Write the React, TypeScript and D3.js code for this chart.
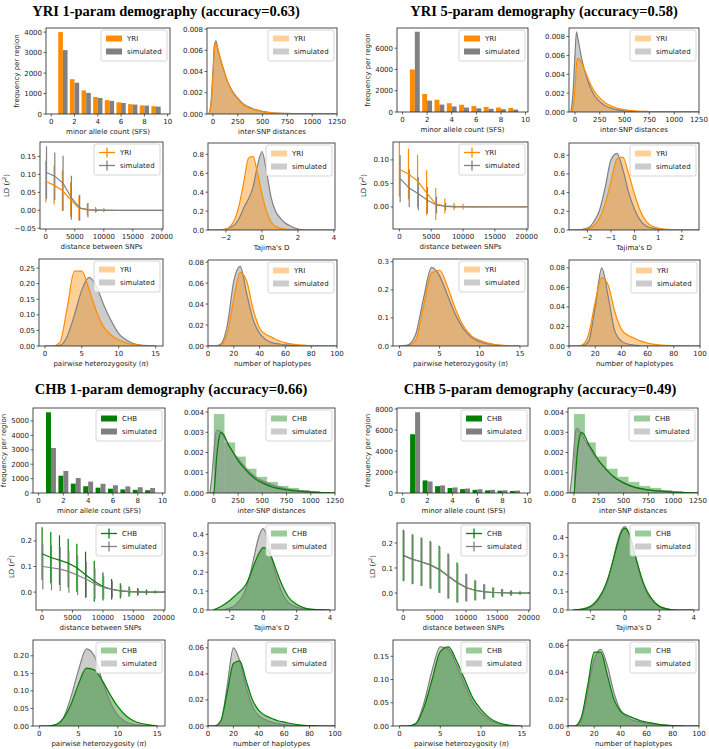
import React from 'react';
import * as d3 from 'd3';

// ---------------- data ----------------
const SFS_BINS = [1, 2, 3, 4, 5, 6, 7, 8, 9];
const yriSfs = [4000, 1700, 1150, 830, 680, 570, 480, 420, 380];
const chbSfs = [5600, 1200, 650, 470, 370, 300, 250, 220, 190];
const simSfsYri1 = [3120, 1530, 1030, 780, 640, 540, 460, 410, 360];
const simSfsYri5 = [7550, 1070, 700, 520, 420, 350, 300, 260, 230];
const simSfsChb1 = [3120, 1530, 1040, 790, 640, 540, 460, 400, 350];
const simSfsChb5 = [7700, 1100, 720, 530, 430, 360, 300, 260, 230];

const INTER_X = [-40, -20, 0, 15, 30, 50, 75, 100, 150, 200, 250, 300, 400, 500, 600, 750, 1000, 1250];
const yriInter1 = [0, 0.0008, 0.0035, 0.0062, 0.0067, 0.006, 0.0052, 0.0044, 0.003, 0.002, 0.0014, 0.0009, 0.00045, 0.00022, 0.0001, 0.00004, 0.00001, 0];
const simInterYri1 = [0, 0.001, 0.004, 0.0065, 0.0069, 0.0061, 0.0052, 0.0044, 0.003, 0.0021, 0.0015, 0.001, 0.0005, 0.00025, 0.00012, 0.00005, 0.00001, 0];
const yriInter5 = [0, 0.0004, 0.0025, 0.005, 0.0057, 0.0055, 0.005, 0.0044, 0.0031, 0.0021, 0.0015, 0.001, 0.0005, 0.00025, 0.00012, 0.00005, 0.00001, 0];
const simInterYri5 = [0, 0.002, 0.006, 0.0085, 0.0078, 0.0066, 0.0053, 0.0043, 0.0027, 0.0017, 0.0011, 0.0007, 0.0003, 0.00012, 0.00005, 0.00002, 0, 0];
const chbInter1 = [0, 0, 0, 0.0008, 0.0018, 0.0026, 0.003, 0.0029, 0.0024, 0.002, 0.0016, 0.0013, 0.0008, 0.0005, 0.0003, 0.00015, 0.00005, 0];
const simInterChb1 = [0, 0.0008, 0.002, 0.0028, 0.0031, 0.0031, 0.003, 0.0028, 0.0024, 0.002, 0.0017, 0.0014, 0.0009, 0.0006, 0.0004, 0.0002, 0.00006, 0];
const chbInter5 = [0, 0, 0, 0.0008, 0.0018, 0.0026, 0.003, 0.0029, 0.0024, 0.002, 0.0016, 0.0013, 0.0008, 0.0005, 0.0003, 0.00015, 0.00005, 0];
const simInterChb5 = [0, 0.0009, 0.0022, 0.003, 0.0032, 0.0031, 0.0029, 0.0027, 0.0023, 0.0019, 0.0016, 0.0013, 0.0008, 0.0005, 0.0003, 0.00015, 0.00004, 0];
const INTER_HIST_EDGES = [0, 110, 220, 330, 440, 550, 660, 770, 880, 990, 1100, 1210];
const chbInterHist = [0.0039, 0.0025, 0.0018, 0.0012, 0.0008, 0.00055, 0.00035, 0.00025, 0.00015, 0.0001, 0.00005];

const TAJ_X = [-3, -2.5, -2, -1.75, -1.5, -1.25, -1, -0.75, -0.5, -0.25, 0, 0.25, 0.5, 0.75, 1, 1.25, 1.5, 2, 2.5, 3, 4];
const yriTaj1 = [0, 0, 0.01, 0.04, 0.12, 0.28, 0.52, 0.76, 0.78, 0.6, 0.38, 0.2, 0.09, 0.04, 0.02, 0.01, 0.005, 0, 0, 0, 0];
const simTajYri1 = [0, 0, 0.01, 0.03, 0.06, 0.13, 0.24, 0.33, 0.45, 0.68, 0.83, 0.62, 0.35, 0.2, 0.13, 0.08, 0.05, 0.01, 0, 0, 0];
const yriTaj5 = [0, 0, 0.01, 0.04, 0.12, 0.28, 0.52, 0.76, 0.78, 0.6, 0.38, 0.2, 0.09, 0.04, 0.02, 0.01, 0.005, 0, 0, 0, 0];
const simTajYri5 = [0, 0, 0.02, 0.08, 0.2, 0.45, 0.75, 0.82, 0.65, 0.4, 0.22, 0.1, 0.04, 0.02, 0.01, 0.005, 0, 0, 0, 0, 0];
const chbTaj1 = [0, 0.02, 0.05, 0.07, 0.09, 0.11, 0.14, 0.19, 0.25, 0.3, 0.33, 0.32, 0.28, 0.22, 0.16, 0.11, 0.07, 0.03, 0.01, 0.003, 0];
const simTajChb1 = [0, 0, 0.01, 0.02, 0.04, 0.07, 0.12, 0.2, 0.3, 0.39, 0.43, 0.38, 0.28, 0.19, 0.12, 0.07, 0.04, 0.015, 0.005, 0.001, 0];
const chbTaj5 = [0, 0.005, 0.02, 0.04, 0.07, 0.11, 0.17, 0.25, 0.34, 0.42, 0.45, 0.42, 0.34, 0.25, 0.17, 0.11, 0.07, 0.02, 0.005, 0, 0];
const simTajChb5 = [0, 0.003, 0.015, 0.03, 0.06, 0.1, 0.16, 0.25, 0.35, 0.43, 0.46, 0.42, 0.33, 0.24, 0.16, 0.1, 0.06, 0.02, 0.005, 0, 0];

const PI_X = [0, 1, 2, 3, 4, 5, 6, 7, 8, 9, 10, 11, 12, 13, 14, 15];
const yriPi1 = [0, 0, 0.01, 0.12, 0.24, 0.24, 0.18, 0.11, 0.06, 0.035, 0.02, 0.01, 0.005, 0.002, 0, 0];
const simPiYri1 = [0, 0, 0.002, 0.03, 0.1, 0.18, 0.22, 0.19, 0.13, 0.08, 0.04, 0.02, 0.008, 0.003, 0.001, 0];
const yriPi5 = [0, 0, 0.02, 0.14, 0.26, 0.27, 0.21, 0.13, 0.07, 0.035, 0.02, 0.01, 0.005, 0.002, 0, 0];
const simPiYri5 = [0, 0.003, 0.04, 0.17, 0.28, 0.25, 0.18, 0.11, 0.06, 0.03, 0.015, 0.007, 0.003, 0.001, 0, 0];
const chbPi1 = [0, 0, 0.003, 0.02, 0.06, 0.12, 0.165, 0.16, 0.13, 0.09, 0.055, 0.03, 0.015, 0.007, 0.003, 0];
const simPiChb1 = [0, 0, 0.002, 0.02, 0.08, 0.16, 0.22, 0.2, 0.13, 0.07, 0.03, 0.012, 0.005, 0.002, 0, 0];
const chbPi5 = [0, 0, 0.005, 0.04, 0.1, 0.16, 0.17, 0.14, 0.1, 0.06, 0.035, 0.018, 0.008, 0.003, 0.001, 0];
const simPiChb5 = [0, 0, 0.006, 0.05, 0.12, 0.17, 0.165, 0.13, 0.09, 0.05, 0.028, 0.014, 0.006, 0.002, 0, 0];

const HAP_X = [0, 5, 10, 15, 20, 25, 30, 35, 40, 45, 50, 55, 60, 70, 80, 90, 100];
const yriHap1 = [0, 0, 0.001, 0.012, 0.045, 0.07, 0.062, 0.035, 0.017, 0.011, 0.008, 0.005, 0.003, 0.001, 0.0003, 0, 0];
const simHapYri1 = [0, 0, 0.002, 0.02, 0.062, 0.076, 0.05, 0.025, 0.012, 0.006, 0.003, 0.002, 0.001, 0.0003, 0, 0, 0];
const yriHap5 = [0, 0, 0.001, 0.012, 0.045, 0.07, 0.062, 0.035, 0.017, 0.011, 0.008, 0.005, 0.003, 0.001, 0.0003, 0, 0];
const simHapYri5 = [0, 0, 0, 0.005, 0.04, 0.08, 0.05, 0.015, 0.005, 0.002, 0.001, 0, 0, 0, 0, 0, 0];
const chbHap1 = [0, 0, 0.004, 0.025, 0.048, 0.05, 0.035, 0.02, 0.012, 0.008, 0.006, 0.004, 0.003, 0.001, 0.0003, 0, 0];
const simHapChb1 = [0, 0, 0.003, 0.03, 0.06, 0.05, 0.03, 0.015, 0.008, 0.005, 0.003, 0.002, 0.001, 0.0003, 0, 0, 0];
const chbHap5 = [0, 0, 0.006, 0.03, 0.055, 0.055, 0.038, 0.02, 0.011, 0.008, 0.006, 0.004, 0.003, 0.001, 0.0003, 0, 0];
const simHapChb5 = [0, 0, 0.004, 0.025, 0.05, 0.057, 0.045, 0.025, 0.012, 0.007, 0.004, 0.003, 0.002, 0.001, 0.0003, 0, 0];

const LD_X = [0, 1429, 2857, 4286, 5714, 7143, 8571, 10000, 11429, 12857, 14286, 15714, 17143, 18571, 20000];
const yriLd = [0.08, 0.07, 0.055, 0.03, 0.006, 0.002, 0.001, 0.0005, 0, 0, 0, 0, 0, 0, 0];
const yriLdErr = [0.058, 0.054, 0.056, 0.048, 0.034, 0.016, 0.008, 0.006, 0.002, 0.001, 0, 0, 0, 0, 0];
const simLdYri1 = [0.105, 0.095, 0.075, 0.035, 0.007, 0.001, 0, 0, 0, 0, 0, 0, 0, 0, 0];
const simLdYri1Err = [0.073, 0.066, 0.077, 0.061, 0.036, 0.02, 0.004, 0.002, 0, 0, 0, 0, 0, 0, 0];
const simLdYri5 = [0.06, 0.04, 0.028, 0.014, 0.004, 0.001, 0, 0, 0, 0, 0, 0, 0, 0, 0];
const simLdYri5Err = [0.05, 0.04, 0.035, 0.028, 0.018, 0.008, 0.003, 0.001, 0, 0, 0, 0, 0, 0, 0];
const chbLd = [0.15, 0.135, 0.125, 0.113, 0.095, 0.068, 0.042, 0.022, 0.011, 0.005, 0.002, 0.001, 0, 0, 0];
const chbLdErr = [0.103, 0.1, 0.097, 0.095, 0.094, 0.09, 0.08, 0.055, 0.04, 0.03, 0.02, 0.015, 0.01, 0.006, 0.003];
const simLdChb1 = [0.1, 0.095, 0.09, 0.08, 0.066, 0.05, 0.032, 0.018, 0.01, 0.005, 0.002, 0.001, 0, 0, 0];
const simLdChb1Err = [0.09, 0.088, 0.086, 0.083, 0.078, 0.07, 0.06, 0.045, 0.032, 0.022, 0.015, 0.01, 0.006, 0.004, 0.002];
const simLdChb5 = [0.15, 0.135, 0.124, 0.11, 0.092, 0.066, 0.04, 0.021, 0.01, 0.005, 0.002, 0.001, 0, 0, 0];
const simLdChb5Err = [0.1, 0.098, 0.096, 0.094, 0.092, 0.088, 0.078, 0.055, 0.04, 0.03, 0.02, 0.015, 0.01, 0.006, 0.003];

const TITLES = [
  'YRI 1-param demography (accuracy=0.63)',
  'YRI 5-param demography (accuracy=0.58)',
  'CHB 1-param demography (accuracy=0.66)',
  'CHB 5-param demography (accuracy=0.49)',
];

// ---------------- style ----------------
const ORANGE = '#ff8c00';
const GRAY = '#808080';
const GREEN = '#008000';
const AXC = '#222';
const SANS = 'DejaVu Sans, sans-serif';

const fmt = (v: number, dec: number) => (v < 0 ? '\u2212' : '') + Math.abs(v).toFixed(dec);

type Spec = any;

function pts(xs: number[], ys: number[]) {
  return xs.map((x, i) => [x, ys[i]] as [number, number]);
}

function Legend({ right, top, entries, kind }: any) {
  const w = 66;
  const h = 31;
  const lx = right - 3 - w;
  const ly = top + 2;
  return (
    <g>
      <rect x={lx} y={ly} width={w} height={h} rx={2} fill="#fff" fillOpacity={0.8} stroke="#ccc" strokeWidth={0.8} />
      {entries.map((e: any, i: number) => {
        const cy = ly + 8.5 + i * 13;
        return (
          <g key={i}>
            {kind === 'ld' ? (
              <g stroke={e.color} strokeWidth={1.3}>
                <line x1={lx + 5} x2={lx + 21} y1={cy} y2={cy} />
                <line x1={lx + 13} x2={lx + 13} y1={cy - 5} y2={cy + 5} />
              </g>
            ) : (
              <rect x={lx + 5} y={cy - 3} width={16} height={6} fill={e.color} fillOpacity={kind === 'bar' ? 1 : 0.4} />
            )}
            <text x={lx + 26} y={cy + 2.5} fontSize={7} fontFamily={SANS} fill={AXC}>{e.label}</text>
          </g>
        );
      })}
    </g>
  );
}

function Subplot({ s, id }: { s: Spec; id: string }) {
  const [bx, by, bw, bh] = s.box;
  const x = d3.scaleLinear().domain(s.xDomain).range([bx, bx + bw]);
  const y = d3.scaleLinear().domain(s.yDomain).range([by + bh, by]);
  const clip = `clip-${id}`;
  let body: any = null;
  let legendKind = 'patch';
  if (s.kind === 'sfs') {
    legendKind = 'bar';
    body = (
      <g>
        {SFS_BINS.map((b, i) => (
          <g key={i}>
            <rect x={x(b - 0.4)} width={x(b) - x(b - 0.4)} y={y(s.pop[i])} height={y(0) - y(s.pop[i])} fill={s.popColor} />
            <rect x={x(b)} width={x(b + 0.4) - x(b)} y={y(s.sim[i])} height={y(0) - y(s.sim[i])} fill={GRAY} />
          </g>
        ))}
      </g>
    );
  } else if (s.kind === 'dens') {
    const area = d3.area<[number, number]>().x((d) => x(d[0])).y0(y(0)).y1((d) => y(d[1])).curve(d3.curveMonotoneX);
    const line = d3.line<[number, number]>().x((d) => x(d[0])).y((d) => y(d[1])).curve(d3.curveMonotoneX);
    const P = pts(s.xs, s.pop);
    const S = pts(s.xs, s.sim);
    body = (
      <g>
        {s.hist &&
          s.hist.map((v: number, i: number) => (
            <rect key={i} x={x(s.histEdges[i])} width={x(s.histEdges[i + 1]) - x(s.histEdges[i])} y={y(v)} height={y(0) - y(v)} fill={s.popColor} fillOpacity={0.4} />
          ))}
        <path d={area(S) as string} fill={GRAY} fillOpacity={0.4} />
        {!s.hist && <path d={area(P) as string} fill={s.popColor} fillOpacity={0.4} />}
        <path d={line(S) as string} fill="none" stroke={GRAY} strokeWidth={1.2} />
        <path d={line(P) as string} fill="none" stroke={s.popColor} strokeWidth={1.2} />
      </g>
    );
  } else {
    legendKind = 'ld';
    const line = d3.line<[number, number]>().x((d) => x(d[0])).y((d) => y(d[1]));
    const off = 120;
    body = (
      <g>
        {LD_X.map((lx, i) => (
          <line key={'p' + i} x1={x(lx)} x2={x(lx)} y1={y(s.pop[i] - s.popErr[i])} y2={y(s.pop[i] + s.popErr[i])} stroke={s.popColor} strokeWidth={1.2} />
        ))}
        {LD_X.map((lx, i) => (
          <line key={'s' + i} x1={x(lx + off)} x2={x(lx + off)} y1={y(s.sim[i] - s.simErr[i])} y2={y(s.sim[i] + s.simErr[i])} stroke={GRAY} strokeWidth={1.2} />
        ))}
        <path d={line(pts(LD_X, s.pop)) as string} fill="none" stroke={s.popColor} strokeWidth={1.2} />
        <path d={line(pts(LD_X.map((v) => v + off), s.sim)) as string} fill="none" stroke={GRAY} strokeWidth={1.2} />
      </g>
    );
  }
  const yLabW = Math.max(...s.yTicks.map((t: number) => fmt(t, s.yDec).length)) * 4.4;
  return (
    <g>
      <defs>
        <clipPath id={clip}>
          <rect x={bx} y={by} width={bw} height={bh} />
        </clipPath>
      </defs>
      <g clipPath={`url(#${clip})`}>{body}</g>
      <rect x={bx} y={by} width={bw} height={bh} fill="none" stroke={AXC} strokeWidth={0.8} />
      {s.xTicks.map((t: number) => (
        <g key={'x' + t}>
          <line x1={x(t)} x2={x(t)} y1={by + bh} y2={by + bh + 2.5} stroke={AXC} strokeWidth={0.7} />
          <text x={x(t)} y={by + bh + 10} fontSize={7} fontFamily={SANS} textAnchor="middle" fill={AXC}>{fmt(t, 0)}</text>
        </g>
      ))}
      {s.yTicks.map((t: number) => (
        <g key={'y' + t}>
          <line x1={bx - 2.5} x2={bx} y1={y(t)} y2={y(t)} stroke={AXC} strokeWidth={0.7} />
          <text x={bx - 4} y={y(t) + 2.5} fontSize={7} fontFamily={SANS} textAnchor="end" fill={AXC}>{fmt(t, s.yDec)}</text>
        </g>
      ))}
      <text x={bx + bw / 2} y={by + bh + 20} fontSize={7} fontFamily={SANS} textAnchor="middle" fill={AXC}>
        {s.xLabel}
        {s.xLabelMath && <tspan fontStyle="italic">{s.xLabelMath}</tspan>}
        {s.xLabelMath && ')'}
      </text>
      {s.yLabel && (
        <text transform={`translate(${bx - yLabW - 9},${by + bh / 2}) rotate(-90)`} fontSize={7} fontFamily={SANS} textAnchor="middle" fill={AXC}>
          {s.yLabel === 'LD' ? (
            <>
              LD (<tspan fontStyle="italic">r</tspan>
              <tspan fontSize={5} dy={-3}>2</tspan>
              <tspan dy={3}>)</tspan>
            </>
          ) : (
            s.yLabel
          )}
        </text>
      )}
      <Legend
        right={bx + bw}
        top={by}
        kind={legendKind}
        entries={[
          { label: s.popLabel, color: s.popColor },
          { label: 'simulated', color: GRAY },
        ]}
      />
    </g>
  );
}

function panel(o: any, pop: string, color: string, d: any): Spec[] {
  const base = { popLabel: pop, popColor: color };
  return [
    { ...base, kind: 'sfs', box: o.sfs, xDomain: [-0.45, 10.2], xTicks: [0, 2, 4, 6, 8, 10], yDomain: d.sfsY, yTicks: d.sfsTicks, yDec: 0, xLabel: 'minor allele count (SFS)', yLabel: 'frequency per region', pop: d.sfsPop, sim: d.sfsSim },
    { ...base, kind: 'dens', box: o.inter, xDomain: [-60, 1250], xTicks: [0, 250, 500, 750, 1000, 1250], yDomain: d.interY, yTicks: d.interTicks, yDec: 3, xLabel: 'inter-SNP distances', xs: INTER_X, pop: d.interPop, sim: d.interSim, hist: d.interHist, histEdges: INTER_HIST_EDGES },
    { ...base, kind: 'ld', box: o.ld, xDomain: [-1000, 20200], xTicks: [0, 5000, 10000, 15000, 20000], yDomain: d.ldY, yTicks: d.ldTicks, yDec: d.ldDec, xLabel: 'distance between SNPs', yLabel: 'LD', pop: d.ldPop, popErr: d.ldPopErr, sim: d.ldSim, simErr: d.ldSimErr },
    { ...base, kind: 'dens', box: o.taj, xDomain: d.tajX, xTicks: d.tajTicks, yDomain: d.tajY, yTicks: d.tajYTicks, yDec: 1, xLabel: "Tajima's D", xs: TAJ_X, pop: d.tajPop, sim: d.tajSim },
    { ...base, kind: 'dens', box: o.pi, xDomain: [-0.8, 16], xTicks: [0, 5, 10, 15], yDomain: d.piY, yTicks: d.piTicks, yDec: d.piDec, xLabel: 'pairwise heterozygosity (', xLabelMath: '\u03c0', xs: PI_X, pop: d.piPop, sim: d.piSim },
    { ...base, kind: 'dens', box: o.hap, xDomain: [0, 100], xTicks: [0, 20, 40, 60, 80, 100], yDomain: d.hapY, yTicks: d.hapTicks, yDec: 2, xLabel: 'number of haplotypes', xs: HAP_X, pop: d.hapPop, sim: d.hapSim },
  ];
}

const LAYOUT = [
  { sfs: [46, 28, 124, 86], inter: [207, 28, 130, 86], ld: [40, 142, 123, 87], taj: [208, 143, 127, 87], pi: [39, 259, 124, 87], hap: [208, 260, 129, 86] },
  { sfs: [397, 28, 131, 84], inter: [569, 28, 130, 84], ld: [393, 142, 135, 87], taj: [569, 143, 130, 87], pi: [393, 259, 135, 87], hap: [569, 260, 131, 86] },
  { sfs: [33, 408, 132, 85], inter: [208, 408, 127, 85], ld: [36, 523, 129, 87], taj: [208, 523, 127, 87], pi: [33, 640, 132, 86], hap: [208, 640, 127, 86] },
  { sfs: [397, 408, 133, 85], inter: [568, 408, 130, 85], ld: [397, 523, 133, 87], taj: [568, 523, 131, 87], pi: [393, 640, 137, 86], hap: [568, 640, 131, 86] },
];
const TITLE_POS = [
  [166, 16],
  [544, 16],
  [171, 394],
  [540, 394],
];

const SUBPLOTS: Spec[] = [
  ...panel(LAYOUT[0], 'YRI', ORANGE, {
    sfsY: [0, 4200], sfsTicks: [0, 1000, 2000, 3000, 4000], sfsPop: yriSfs, sfsSim: simSfsYri1,
    interY: [0, 0.0081], interTicks: [0, 0.002, 0.004, 0.006, 0.008], interPop: yriInter1, interSim: simInterYri1,
    ldY: [-0.052, 0.19], ldTicks: [-0.05, 0, 0.05, 0.1, 0.15], ldDec: 2, ldPop: yriLd, ldPopErr: yriLdErr, ldSim: simLdYri1, ldSimErr: simLdYri1Err,
    tajX: [-3, 4.06], tajTicks: [-2, 0, 2, 4], tajY: [0, 0.92], tajYTicks: [0, 0.2, 0.4, 0.6, 0.8], tajPop: yriTaj1, tajSim: simTajYri1,
    piY: [0, 0.279], piTicks: [0, 0.05, 0.1, 0.15, 0.2, 0.25], piDec: 2, piPop: yriPi1, piSim: simPiYri1,
    hapY: [0, 0.082], hapTicks: [0, 0.02, 0.04, 0.06, 0.08], hapPop: yriHap1, hapSim: simHapYri1,
  }),
  ...panel(LAYOUT[1], 'YRI', ORANGE, {
    sfsY: [0, 7900], sfsTicks: [0, 2000, 4000, 6000], sfsPop: yriSfs, sfsSim: simSfsYri5,
    interY: [0, 0.0089], interTicks: [0, 0.002, 0.004, 0.006, 0.008], interPop: yriInter5, interSim: simInterYri5,
    ldY: [-0.047, 0.138], ldTicks: [0, 0.05, 0.1], ldDec: 2, ldPop: yriLd, ldPopErr: yriLdErr, ldSim: simLdYri5, ldSimErr: simLdYri5Err,
    tajX: [-2.78, 2.73], tajTicks: [-2, -1, 0, 1, 2], tajY: [0, 0.93], tajYTicks: [0, 0.2, 0.4, 0.6, 0.8], tajPop: yriTaj5, tajSim: simTajYri5,
    piY: [0, 0.31], piTicks: [0, 0.1, 0.2, 0.3], piDec: 1, piPop: yriPi5, piSim: simPiYri5,
    hapY: [0, 0.088], hapTicks: [0, 0.02, 0.04, 0.06, 0.08], hapPop: yriHap5, hapSim: simHapYri5,
  }),
  ...panel(LAYOUT[2], 'CHB', GREEN, {
    sfsY: [0, 5900], sfsTicks: [0, 1000, 2000, 3000, 4000, 5000], sfsPop: chbSfs, sfsSim: simSfsChb1,
    interY: [0, 0.0042], interTicks: [0, 0.001, 0.002, 0.003, 0.004], interPop: chbInter1, interSim: simInterChb1, interHist: chbInterHist,
    ldY: [-0.07, 0.27], ldTicks: [0, 0.1, 0.2], ldDec: 1, ldPop: chbLd, ldPopErr: chbLdErr, ldSim: simLdChb1, ldSimErr: simLdChb1Err,
    tajX: [-3.3, 4.3], tajTicks: [-2, 0, 2, 4], tajY: [0, 0.46], tajYTicks: [0, 0.1, 0.2, 0.3, 0.4], tajPop: chbTaj1, tajSim: simTajChb1,
    piY: [0, 0.245], piTicks: [0, 0.05, 0.1, 0.15, 0.2], piDec: 2, piPop: chbPi1, piSim: simPiChb1,
    hapY: [0, 0.066], hapTicks: [0, 0.02, 0.04, 0.06], hapPop: chbHap1, hapSim: simHapChb1,
  }),
  ...panel(LAYOUT[3], 'CHB', GREEN, {
    sfsY: [0, 8100], sfsTicks: [0, 2000, 4000, 6000, 8000], sfsPop: chbSfs, sfsSim: simSfsChb5,
    interY: [0, 0.0042], interTicks: [0, 0.001, 0.002, 0.003, 0.004], interPop: chbInter5, interSim: simInterChb5, interHist: chbInterHist,
    ldY: [-0.068, 0.28], ldTicks: [0, 0.1, 0.2], ldDec: 1, ldPop: chbLd, ldPopErr: chbLdErr, ldSim: simLdChb5, ldSimErr: simLdChb5Err,
    tajX: [-3.3, 4.3], tajTicks: [-2, 0, 2, 4], tajY: [0, 0.48], tajYTicks: [0, 0.1, 0.2, 0.3, 0.4], tajPop: chbTaj5, tajSim: simTajChb5,
    piY: [0, 0.185], piTicks: [0, 0.05, 0.1, 0.15], piDec: 2, piPop: chbPi5, piSim: simPiChb5,
    hapY: [0, 0.064], hapTicks: [0, 0.02, 0.04, 0.06], hapPop: chbHap5, hapSim: simHapChb5,
  }),
];

export default function App() {
  return (
    <svg width={709} height={749} viewBox="0 0 709 749" style={{ display: 'block', position: 'absolute', left: 0, top: 0, background: '#fff' }}>
      <rect width={709} height={749} fill="#fff" />
      {TITLES.map((t, i) => (
        <text key={t} x={TITLE_POS[i][0]} y={TITLE_POS[i][1]} fontFamily="Liberation Serif, Times New Roman, serif" fontWeight="bold" fontSize={14.5} textAnchor="middle" fill="#000">
          {t}
        </text>
      ))}
      {SUBPLOTS.map((s, i) => (
        <Subplot key={i} s={s} id={'sp' + i} />
      ))}
    </svg>
  );
}
